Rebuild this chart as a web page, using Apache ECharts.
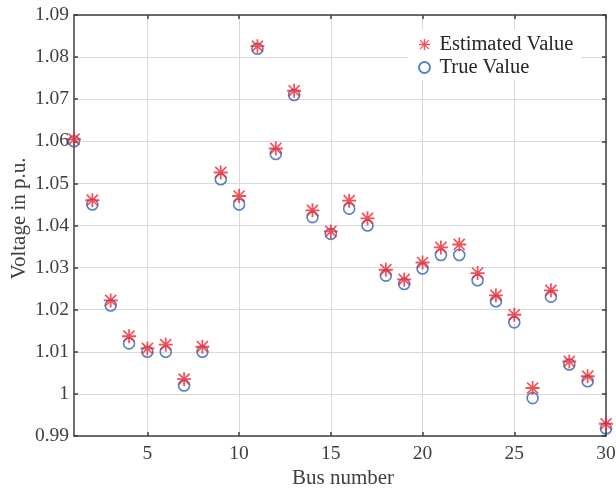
<!DOCTYPE html>
<html>
<head>
<meta charset="utf-8">
<script src="https://cdn.jsdelivr.net/npm/echarts@6/dist/echarts.min.js"></script>
<style>html,body{margin:0;padding:0;background:#fff}#c{width:616px;height:491px}</style>
</head>
<body>
<div id="c"></div>
<script>
const busNumbers = [1,2,3,4,5,6,7,8,9,10,11,12,13,14,15,16,17,18,19,20,21,22,23,24,25,26,27,28,29,30];
const estimatedValues = [1.0605,1.0460,1.0222,1.0137,1.0108,1.0117,1.0035,1.0112,1.0526,1.0470,
  1.0826,1.0583,1.0720,1.0436,1.0386,1.0459,1.0417,1.0295,1.0272,1.0312,
  1.0348,1.0355,1.0287,1.0234,1.0188,1.0014,1.0246,1.0077,1.0042,0.9929];
const trueValues = [1.0600,1.0450,1.0210,1.0120,1.0100,1.0100,1.0020,1.0100,1.0510,1.0450,
  1.0820,1.0570,1.0710,1.0420,1.0380,1.0440,1.0400,1.0281,1.0261,1.0298,
  1.0330,1.0330,1.0270,1.0220,1.0170,0.9990,1.0231,1.0070,1.0030,0.9918];
const xTicks = [5,10,15,20,25,30];
const seriesNames = ['Estimated Value','True Value'];
const xLabel = 'Bus number';
const yLabel = 'Voltage in p.u.';

const FONT = '"Liberation Serif", "DejaVu Serif", serif';
const AX = '#404040';
const star = 'path://M0 10.4H24V13.6H0Z M10.5 0H13.5V24H10.5Z M3.5 1.5L22.5 20.5L20.5 22.5L1.5 3.5Z M20.5 1.5L22.5 3.5L3.5 22.5L1.5 20.5Z';

const chart = echarts.init(document.getElementById('c'));
const pair = (xs, ys) => xs.map((x, i) => [x, ys[i]]);
chart.setOption({
  animation: false,
  grid: {left: 74, right: 10, top: 15, bottom: 55, containLabel: false, outerBoundsMode: 'none'},
  xAxis: [{
    type: 'value', min: 1, max: 30, position: 'bottom',
    name: xLabel, nameLocation: 'middle', nameGap: 32, nameMoveOverlap: false,
    nameTextStyle: {fontFamily: FONT, fontSize: 21, color: AX, padding: [0, 0, 0, 6]},
    axisLine: {show: true, lineStyle: {color: AX, width: 1.5}},
    axisTick: {show: true, inside: true, length: 4, customValues: xTicks, lineStyle: {color: AX, width: 1.5}},
    axisLabel: {customValues: xTicks, fontFamily: FONT, fontSize: 19.5, color: AX, margin: 8},
    splitLine: {show: true, lineStyle: {color: '#d9d9d9', width: 1}}
  }, {
    type: 'value', min: 1, max: 30, position: 'top',
    axisLine: {show: true, lineStyle: {color: AX, width: 1.5}},
    axisTick: {show: true, inside: true, length: 4, customValues: xTicks, lineStyle: {color: AX, width: 1.5}},
    axisLabel: {show: false},
    splitLine: {show: false}
  }],
  yAxis: [{
    type: 'value', min: 0.99, max: 1.09, interval: 0.01, position: 'left',
    name: yLabel, nameLocation: 'middle', nameGap: 44, nameMoveOverlap: false,
    nameTextStyle: {fontFamily: FONT, fontSize: 21, color: AX, padding: [0, 0, 0, 14]},
    axisLine: {show: true, lineStyle: {color: AX, width: 1.5}},
    axisTick: {show: true, inside: true, length: 4, lineStyle: {color: AX, width: 1.5}},
    axisLabel: {fontFamily: FONT, fontSize: 19.5, color: AX, margin: 5,
      formatter: v => String(parseFloat(v.toFixed(2)))},
    splitLine: {show: true, lineStyle: {color: '#d9d9d9', width: 1}}
  }, {
    type: 'value', min: 0.99, max: 1.09, interval: 0.01, position: 'right',
    axisLine: {show: true, lineStyle: {color: AX, width: 1.5}},
    axisTick: {show: true, inside: true, length: 4, lineStyle: {color: AX, width: 1.5}},
    axisLabel: {show: false},
    splitLine: {show: false}
  }],
  legend: {
    orient: 'vertical', left: 408, top: 30,
    backgroundColor: '#ffffff', padding: [4, 8, 2, 10],
    itemWidth: 20, itemHeight: 11, itemGap: 2,
    data: [seriesNames[0], seriesNames[1]],
    textStyle: {fontFamily: FONT, fontSize: 20.5, color: '#262626', lineHeight: 20}
  },
  series: [{
    name: seriesNames[1], type: 'scatter', z: 2,
    data: pair(busNumbers, trueValues),
    symbol: 'circle', symbolSize: 11,
    itemStyle: {color: 'rgba(0,0,0,0)', borderColor: '#2c62b5', borderWidth: 1.6}
  }, {
    name: seriesNames[0], type: 'scatter', z: 3,
    data: pair(busNumbers, estimatedValues),
    symbol: star, symbolSize: 14,
    itemStyle: {color: '#f0262e'}
  }]
});
</script>
</body>
</html>
